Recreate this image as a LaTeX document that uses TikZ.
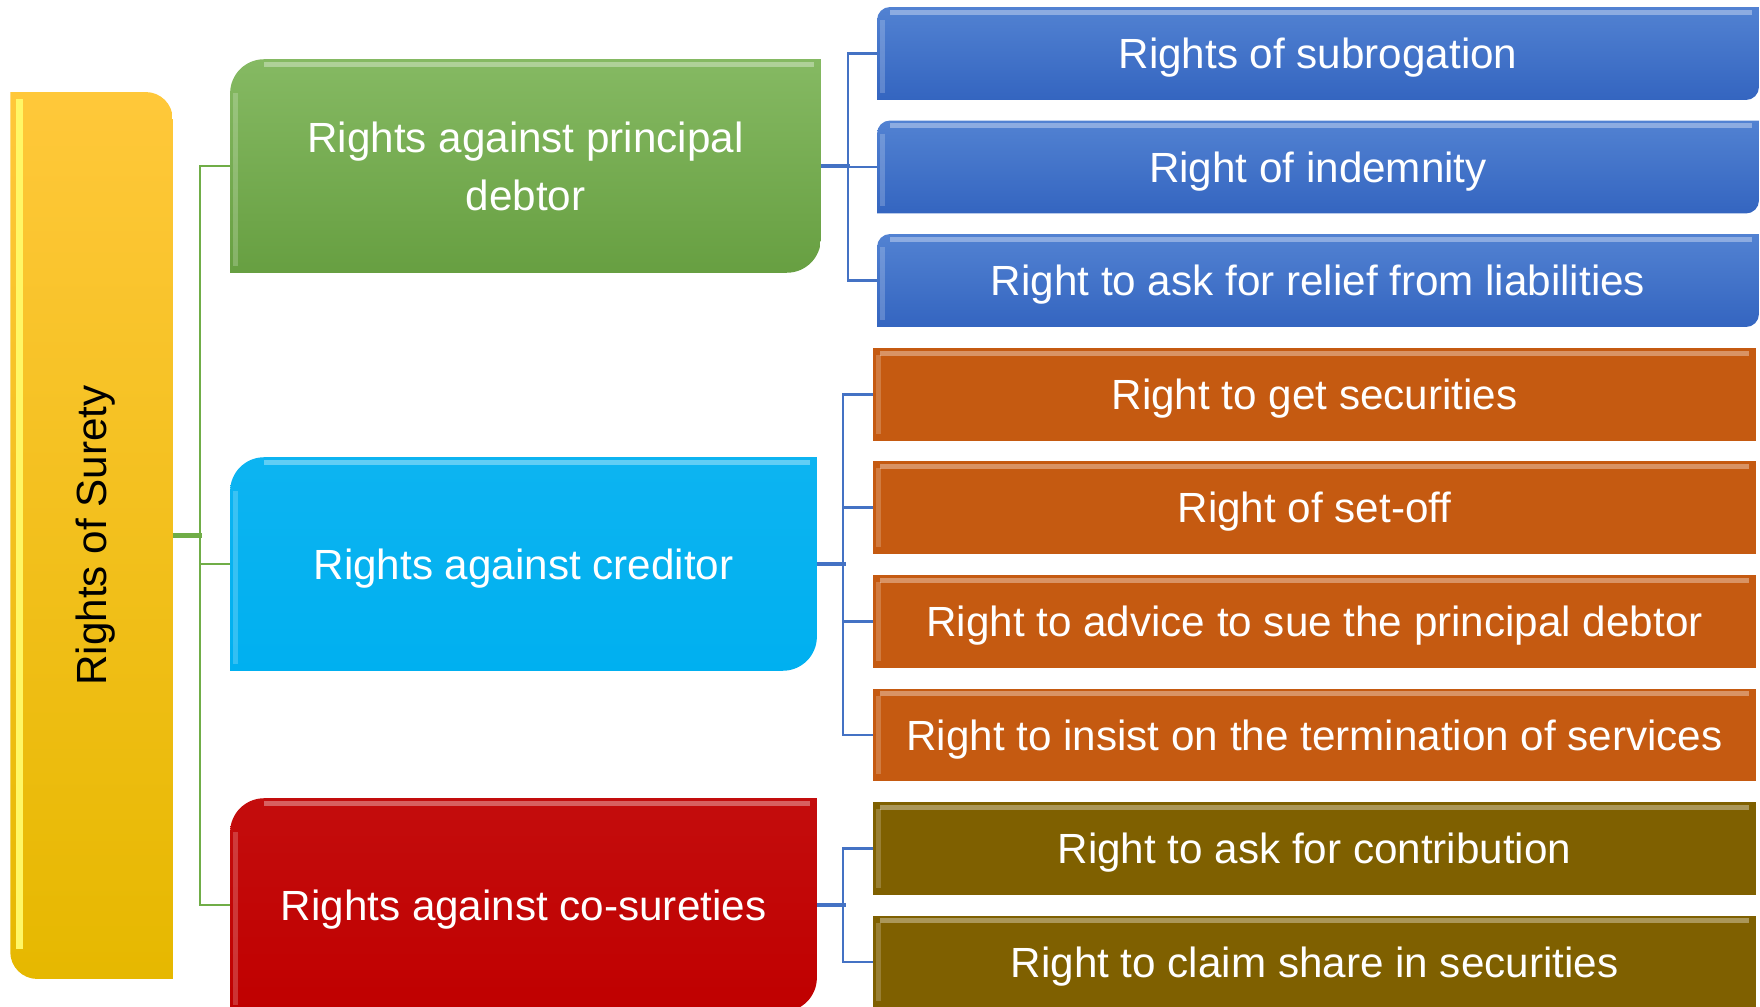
\documentclass[tikz,border=0pt]{standalone}
\usepackage{fontspec}
\setmainfont{Liberation Sans}
\usepackage{graphicx}
\usetikzlibrary{backgrounds}

\definecolor{goldTop}{HTML}{FFC83A}
\definecolor{goldBot}{HTML}{E6B800}
\definecolor{leaf}{HTML}{70AD47}
\definecolor{sky}{HTML}{00B0F0}
\definecolor{crimson}{HTML}{C00000}
\definecolor{royal}{HTML}{4472C4}
\definecolor{royalTop}{HTML}{5282D2}
\definecolor{royalBot}{HTML}{3465C0}
\definecolor{rust}{HTML}{C55A11}
\definecolor{mud}{HTML}{7F6000}

\begin{document}
\begin{tikzpicture}[x=0.01cm, y=-0.01cm,
    every node/.style={inner sep=0pt, align=center, font=\fontsize{12}{16.5}\selectfont},
    topic/.style={text=white, minimum width=5.85cm, minimum height=2.12cm},
    item/.style={text=white, text depth=0pt, minimum width=8.81cm, minimum height=0.915cm},
    link/.style={line width=0.7pt},
    stub/.style={line width=1.4pt},
    gloss/.style={white, opacity=0.35, line width=1.5pt}]

    \useasboundingbox (0,0) rectangle (1760,1007);

    % Root
    \node[minimum width=1.61cm, minimum height=8.85cm] (surety) at (91.5,535.5) {\rotatebox{90}{\raisebox{0pt}[\height][0pt]{Rights of Surety}}};
    % Second level
    \node[topic, minimum width=5.89cm] (debtor) at (525.5,166) {Rights against principal\\debtor};
    \node[topic, text depth=0pt] (creditor) at (523.5,564) {Rights against creditor};
    \node[topic, text depth=0pt] (cosurety) at (523.5,905) {Rights against co-sureties};
    % Rights against principal debtor
    \node[item, minimum width=8.8cm] (subro) at (1318,53.5) {Rights of subrogation};
    \node[item, minimum width=8.8cm] (indem) at (1318,167) {Right of indemnity};
    \node[item, minimum width=8.8cm] (relief) at (1318,280.5) {Right to ask for relief from liabilities};
    % Rights against creditor
    \node[item] (secur) at (1314.5,394.5) {Right to get securities};
    \node[item] (setoff) at (1314.5,507.5) {Right of set-off};
    \node[item] (sue) at (1314.5,621.5) {Right to advice to sue the principal debtor};
    \node[item] (insist) at (1314.5,735) {Right to insist on the termination of services};
    % Rights against co-sureties
    \node[item] (contrib) at (1314.5,848.5) {Right to ask for contribution};
    \node[item] (share) at (1314.5,962) {Right to claim share in securities};

    % Box bodies behind the text
    \begin{scope}[on background layer]
        % root: rounded top right and bottom left
        \shade[top color=goldTop, bottom color=goldBot] (surety.north west) -- ([xshift=-0.27cm]surety.north east) arc[start angle=90, end angle=0, radius=0.27cm] -- (surety.south east) -- ([xshift=0.27cm]surety.south west) arc[start angle=270, end angle=180, radius=0.27cm] -- cycle;
        \draw[yellow!60!white, line width=2pt] ([xshift=2.5pt, yshift=-2pt]surety.north west) -- ([xshift=2.5pt, yshift=0.3cm]surety.south west);
        % rounded top left and bottom right
        \foreach \n/\r/\t/\b in {debtor/0.34cm/leaf!85!white/leaf!92!black, creditor/0.34cm/sky!95!white/sky, cosurety/0.34cm/crimson!95!white/crimson, subro/0.13cm/royalTop/royalBot, indem/0.13cm/royalTop/royalBot, relief/0.13cm/royalTop/royalBot} {
            \shade[top color=\t, bottom color=\b] ([yshift=-\r]\n.north west) arc[start angle=180, end angle=90, radius=\r] -- (\n.north east) -- ([yshift=\r]\n.south east) arc[start angle=0, end angle=-90, radius=\r] -- (\n.south west) -- cycle;
            \draw[gloss] ([xshift=\r, yshift=-1.5pt]\n.north west) -- ([xshift=-2pt, yshift=-1.5pt]\n.north east);
            \draw[gloss, opacity=0.2] ([xshift=1.5pt, yshift=-\r]\n.north west) -- ([xshift=1.5pt, yshift=2pt]\n.south west);
        }
        % square corners
        \foreach \n/\c in {secur/rust, setoff/rust, sue/rust, insist/rust, contrib/mud, share/mud} {
            \fill[\c] (\n.north west) rectangle (\n.south east);
            \draw[gloss] ([xshift=2pt, yshift=-1.5pt]\n.north west) -- ([xshift=-2pt, yshift=-1.5pt]\n.north east);
            \draw[gloss, opacity=0.2] ([xshift=1.5pt, yshift=-2pt]\n.north west) -- ([xshift=1.5pt, yshift=2pt]\n.south west);
        }
    \end{scope}

    % Root to second level
    \draw[leaf, stub] (surety.east) -- ++(29,0);
    \draw[leaf, link] (debtor.west) -- ++(-30,0) |- (cosurety.west);
    \draw[leaf, link] (creditor.west) -- ++(-30,0);
    % Principal debtor branch
    \draw[royal, stub] (debtor.east) -- ++(29,0);
    \draw[royal, link] (subro.west) -- ++(-29,0) |- (relief.west);
    \draw[royal, link] (indem.west) -- ++(-29,0);
    % Creditor branch
    \draw[royal, stub] (creditor.east) -- ++(29,0);
    \draw[royal, link] (secur.west) -- ++(-30,0) |- (insist.west);
    \draw[royal, link] (setoff.west) -- ++(-30,0);
    \draw[royal, link] (sue.west) -- ++(-30,0);
    % Co-sureties branch
    \draw[royal, stub] (cosurety.east) -- ++(29,0);
    \draw[royal, link] (contrib.west) -- ++(-30,0) |- (share.west);
\end{tikzpicture}
\end{document}
